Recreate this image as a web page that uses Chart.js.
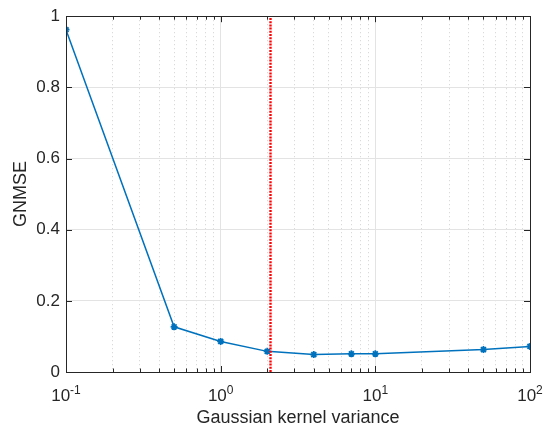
<!DOCTYPE html>
<html lang="en">
<head>
    <meta charset="UTF-8">
    <title>GNMSE vs Gaussian kernel variance</title>
    <script src="https://cdn.jsdelivr.net/npm/chart.js"></script>
    <style>
        body { margin: 0; background: #fff; }
        #wrap { width: 549px; height: 431px; }
    </style>
</head>
<body>
    <div id="wrap"><canvas id="grafico"></canvas></div>

    <script>
        const variances = [0.1, 0.5, 1, 2, 4, 7, 10, 50, 100];
        const gnmse = [0.962, 0.127, 0.086, 0.058, 0.049, 0.051, 0.051, 0.063, 0.072];
        const selectedVariance = 2.1;
        const xExponents = [-1, 0, 1, 2];
        const yTickValues = [0, 0.2, 0.4, 0.6, 0.8, 1];

        const axisColor = '#262626';
        const fontFamily = '"Liberation Sans", Helvetica, Arial, sans-serif';

        // all log ticks 1..9 x 10^k between 0.1 and 100
        const xTickValues = [];
        xExponents.forEach(e => {
            for (let m = 1; m <= 9; m++) {
                const v = +(m * Math.pow(10, e)).toPrecision(3);
                if (v <= 100) xTickValues.push(v);
            }
        });
        const isDecade = v => Math.abs(Math.log10(v) - Math.round(Math.log10(v))) < 1e-9;

        // box, inner tick marks and 10^n labels, MATLAB style
        const matlabAxes = {
            id: 'matlabAxes',
            afterDraw(chart) {
                const { ctx, chartArea: a, scales: { x, y } } = chart;
                ctx.save();
                ctx.strokeStyle = axisColor;
                ctx.lineWidth = 1;
                ctx.beginPath();
                xTickValues.forEach(v => {
                    const px = Math.round(x.getPixelForValue(v)) + 0.5;
                    const len = isDecade(v) ? 6 : 3.5;
                    ctx.moveTo(px, a.bottom); ctx.lineTo(px, a.bottom - len);
                    ctx.moveTo(px, a.top); ctx.lineTo(px, a.top + len);
                });
                yTickValues.forEach(v => {
                    const py = Math.round(y.getPixelForValue(v)) + 0.5;
                    ctx.moveTo(a.left, py); ctx.lineTo(a.left + 6, py);
                    ctx.moveTo(a.right, py); ctx.lineTo(a.right - 6, py);
                });
                ctx.stroke();
                ctx.strokeRect(Math.round(a.left) + 0.5, Math.round(a.top) + 0.5,
                    Math.round(a.right - a.left), Math.round(a.bottom - a.top));

                ctx.fillStyle = axisColor;
                ctx.textBaseline = 'alphabetic';
                xExponents.forEach(e => {
                    const px = x.getPixelForValue(Math.pow(10, e));
                    const exp = String(e);
                    ctx.font = '17px ' + fontFamily;
                    const wb = ctx.measureText('10').width;
                    ctx.font = '12px ' + fontFamily;
                    const we = ctx.measureText(exp).width;
                    const x0 = px - (wb + we) / 2;
                    ctx.font = '17px ' + fontFamily;
                    ctx.fillText('10', x0, a.bottom + 29);
                    ctx.font = '12px ' + fontFamily;
                    ctx.fillText(exp, x0 + wb, a.bottom + 22);
                });
                ctx.restore();
            }
        };

        const ctx = document.getElementById('grafico').getContext('2d');
        const grafico = new Chart(ctx, {
            type: 'line',
            data: {
                datasets: [{
                    label: 'Selected variance',
                    data: [{ x: selectedVariance, y: 0 }, { x: selectedVariance, y: 1 }],
                    borderColor: '#ff0000',
                    borderWidth: 2.4,
                    borderDash: [2, 1.2],
                    pointRadius: 0
                }, {
                    label: 'GNMSE',
                    data: variances.map((v, i) => ({ x: v, y: gnmse[i] })),
                    borderColor: '#0072bd',
                    backgroundColor: '#0072bd',
                    borderWidth: 1.5,
                    pointStyle: 'star',
                    pointRadius: 3.5,
                    pointBorderWidth: 1.8,
                    pointBorderColor: '#0072bd',
                    tension: 0
                }]
            },
            options: {
                responsive: true,
                maintainAspectRatio: false,
                animation: false,
                devicePixelRatio: 1,
                layout: { padding: { top: 12, right: 19, left: 0, bottom: 0 } },
                plugins: {
                    legend: { display: false },
                    tooltip: { enabled: false }
                },
                scales: {
                    x: {
                        type: 'logarithmic',
                        min: 0.1,
                        max: 100,
                        afterBuildTicks: s => { s.ticks = xTickValues.map(v => ({ value: v, major: isDecade(v) })); },
                        afterFit: s => { s.height = 59; },
                        ticks: { display: false, autoSkip: false },
                        grid: {
                            drawTicks: false,
                            color: c => (c.tick && isDecade(c.tick.value)) ? '#e3e3e3' : '#d2d2d2',
                            lineWidth: 1
                        },
                        border: {
                            display: false,
                            dash: c => (c.tick && isDecade(c.tick.value)) ? [] : [1, 3]
                        },
                        title: {
                            display: true,
                            text: 'Gaussian kernel variance',
                            color: axisColor,
                            font: { family: fontFamily, size: 18 },
                            padding: { top: 0, bottom: 2 }
                        }
                    },
                    y: {
                        min: 0,
                        max: 1,
                        afterBuildTicks: s => { s.ticks = yTickValues.map(v => ({ value: v })); },
                        afterFit: s => { s.width = 66; },
                        ticks: {
                            color: axisColor,
                            padding: 6,
                            font: { family: fontFamily, size: 17 },
                            callback: v => (v === 0 || v === 1) ? String(v) : v.toFixed(1)
                        },
                        grid: { drawTicks: false, color: '#e3e3e3', lineWidth: 1 },
                        border: { display: false },
                        title: {
                            display: true,
                            text: 'GNMSE',
                            color: axisColor,
                            font: { family: fontFamily, size: 18 },
                            padding: { top: 10, bottom: 0 }
                        }
                    }
                }
            },
            plugins: [matlabAxes]
        });
    </script>
</body>
</html>
